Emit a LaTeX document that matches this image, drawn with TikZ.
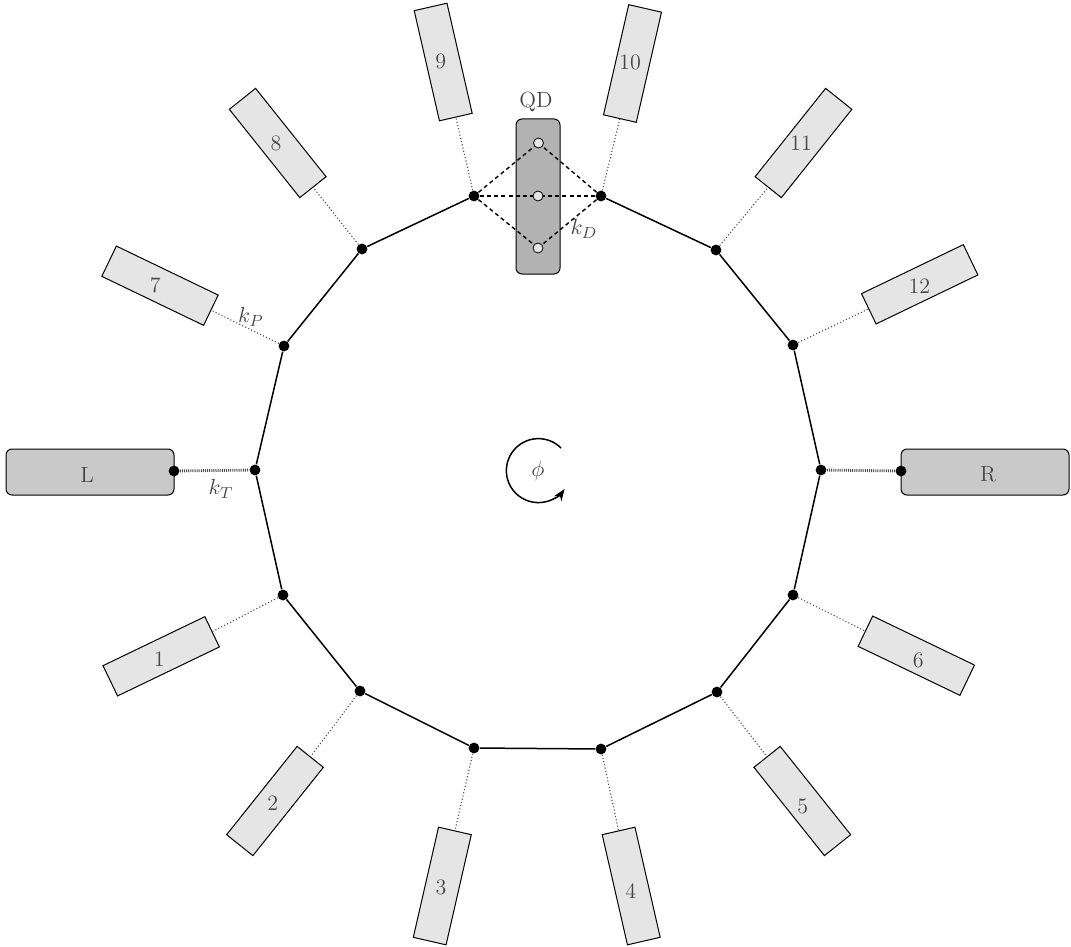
\documentclass[tikz,border=0pt]{standalone}
\usetikzlibrary{arrows.meta}
\tikzset{
  ringdot/.style={circle,fill=black,draw=none,inner sep=0pt,minimum size=5.4pt},
  qddot/.style={circle,fill=black!10,draw=black,line width=0.4pt,inner sep=0pt,minimum size=5pt},
  probe/.style={rectangle,draw=black,line width=0.5pt,fill=black!10,inner sep=0pt,minimum width=56.5pt,minimum height=16.8pt},
  lead/.style={rectangle,rounded corners=3pt,draw=black,line width=0.5pt,fill=black!21,inner sep=0pt,minimum width=84pt,minimum height=23pt},
  qdbox/.style={rectangle,rounded corners=3pt,draw=black,line width=0.5pt,fill=black!30,inner sep=0pt,minimum width=22pt,minimum height=77.5pt},
  txt/.style={text=black!72,inner sep=0pt,font=\fontsize{11}{13}\selectfont},
  ringline/.style={line width=0.75pt,black},
  probeline/.style={line width=0.55pt,black!70,dash pattern=on 0.55pt off 1.1pt},
  leadline/.style={line width=1.4pt,black!70,dash pattern=on 0.5pt off 0.55pt},
  dashline/.style={line width=0.7pt,black,dash pattern=on 2pt off 1.6pt},
}
\begin{document}
\begin{tikzpicture}[x=0.5pt,y=-0.5pt]
\useasboundingbox (0,0) rectangle (1071,947);
% ring sites
\foreach \n/\x/\y in {a/474/196,b/601/196,c/716/250,d/793/345,e/821/470,f/793/595,g/717/692,h/601/749,i/474/748,j/360/691,k/283/595,l/255/470,m/284/346,n/362/249}
  \node[ringdot] (\n) at (\x,\y) {};
% probes
\foreach \n/\x/\y/\r in {p1/161.2/656.3/205.7,p2/275/801/231.4,p3/442.3/886/257.1,p4/631.2/886/282.9,p5/802.3/801/308.6,p6/916.3/655.7/334.3,p7/160/285.7/154.3,p8/277.7/143/128.6,p9/443.2/62/102.9,p10/632.5/63.5/77.1,p11/803.5/143/51.4,p12/919.7/284.3/25.7}
  \node[probe,rotate=\r] (\n) at (\x,\y) {};
% probe labels
\foreach \n/\x/\y/\t in {t1/159.3/659/1,t2/272.7/802.7/2,t3/441/887/3,t4/630.7/890.7/4,t5/802.7/806/5,t6/918.3/660.7/6,t7/155.3/285.7/7,t8/276/143/8,t9/440.7/61.7/9,t10/630/62.7/10,t11/801/143/11,t12/919.3/285.7/12}
  \node[txt] (\n) at (\x,\y) {\t};
% probe couplings
\foreach \s/\p in {k/p1,j/p2,i/p3,h/p4,g/p5,f/p6,m/p7,n/p8,a/p9,b/p10,c/p11,d/p12}
  \draw[probeline] (\s) -- (\p.west);
% leads
\node[lead] (L) at (90,472) {};
\node[lead] (R) at (985,472) {};
\node[txt] (Ltxt) at (87,475) {L};
\node[txt] (Rtxt) at (988,474) {R};
\node[ringdot] (Ld) at (174,471) {};
\node[ringdot] (Rd) at (901,471) {};
\draw[leadline] (Ld) -- (l);
\draw[leadline] (Rd) -- (e);
% quantum dot
\node[qdbox] (QD) at (538,196.5) {};
\node[txt] (QDtxt) at (536,102) {QD};
\node[qddot] (q1) at (538.5,143) {};
\node[qddot] (q2) at (538,196) {};
\node[qddot] (q3) at (538,248) {};
\foreach \q in {q1,q2,q3} {
  \draw[dashline] (a) -- (\q);
  \draw[dashline] (b) -- (\q);
}
% ring
\draw[ringline] (b) -- (c) -- (d) -- (e) -- (f) -- (g) -- (h) -- (i) -- (j) -- (k) -- (l) -- (m) -- (n) -- (a);
% labels
\node[txt] (kD) at (584,229) {$k_D$};
\node[txt] (kP) at (251,317) {$k_P$};
\node[txt] (kT) at (221,489) {$k_T$};
\node[txt] (phi) at (538,471) {$\phi$};
% flux arrow
\coordinate (arcstart) at (561,448);
\draw[line width=0.75pt,-{Stealth[length=6pt,width=4.5pt]}] (arcstart) arc[start angle=-45,end angle=-325,radius=32];
\end{tikzpicture}
\end{document}
